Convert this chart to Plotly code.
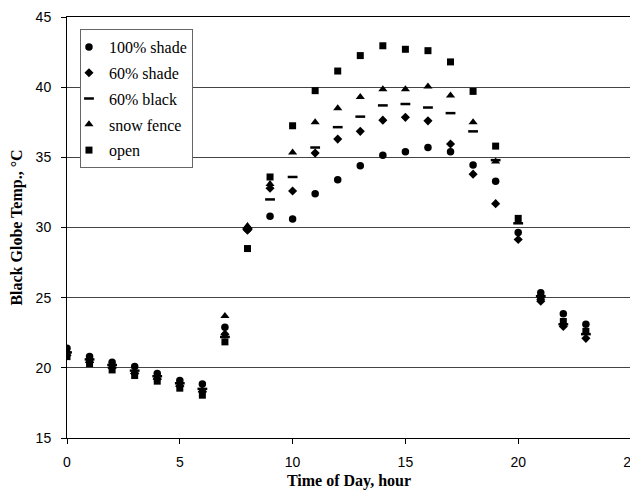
import plotly.graph_objects as go

hours = list(range(24))

shade100 = [21.4, 20.8, 20.4, 20.1, 19.6, 19.1, 18.85, 22.9, 29.9, 30.8, 30.6, 32.4, 33.4, 34.4, 35.15, 35.4, 35.7, 35.4, 34.45, 33.3, 29.65, 25.35, 23.85, 23.1]
shade60 = [20.9, 20.4, 20.0, 19.6, 19.2, 18.7, 18.3, 22.4, 29.8, 32.8, 32.6, 35.3, 36.3, 36.85, 37.65, 37.85, 37.6, 35.95, 33.8, 31.7, 29.15, 24.75, 22.95, 22.1]
black60 = [21.1, 20.6, 20.2, 19.8, 19.4, 18.9, 18.5, 22.2, 29.9, 32.0, 33.6, 35.7, 37.15, 37.9, 38.7, 38.8, 38.55, 38.15, 36.85, 34.8, 30.3, 25.1, 23.1, 22.4]
snowfence = [21.2, 20.5, 20.1, 19.7, 19.3, 18.8, 18.4, 23.7, 30.1, 33.1, 35.35, 37.5, 38.5, 39.3, 39.85, 39.85, 40.05, 39.4, 37.5, 34.7, 30.4, 25.0, 23.2, 22.5]
open_ = [20.8, 20.3, 19.85, 19.45, 19.05, 18.55, 18.05, 21.85, 28.5, 33.6, 37.25, 39.75, 41.15, 42.25, 42.95, 42.7, 42.6, 41.8, 39.7, 35.8, 30.65, 25.0, 23.3, 22.6]

series = [
    ("100% shade", shade100, dict(symbol="circle", size=7.5, color="black")),
    ("60% shade", shade60, dict(symbol="diamond", size=7, color="black")),
    ("60% black", black60, dict(symbol="line-ew", size=7, color="black", line=dict(width=2.5, color="black"))),
    ("snow fence", snowfence, dict(symbol="triangle-up", size=8, color="black")),
    ("open", open_, dict(symbol="square", size=7, color="black")),
]

fig = go.Figure()
for i, (name, vals, mk) in enumerate(series):
    fig.add_trace(go.Scatter(x=hours, y=vals, mode="markers", name=name,
                             marker=mk, legendgroup=f"g{i}"))

axis_common = dict(showline=True, linecolor="black", linewidth=1, mirror=True,
                   ticks="outside", ticklen=5, tickcolor="black",
                   tickfont=dict(family="Liberation Sans", size=14, color="black"),
                   zeroline=False, ticklabeloverflow="allow")

fig.update_xaxes(range=[0, 25], tick0=0, dtick=5, showgrid=False,
                 ticklabelstandoff=6,
                 title=dict(text="<b>Time of Day, hour</b>",
                            font=dict(family="Liberation Serif", size=16, color="black"),
                            standoff=8),
                 **axis_common)
fig.update_yaxes(range=[15, 45], tick0=15, dtick=5, showgrid=True,
                 gridcolor="#444444", gridwidth=1, ticklabelstandoff=7,
                 title=dict(text="<b>Black Globe Temp., °C</b>",
                            font=dict(family="Liberation Serif", size=16, color="black"),
                            standoff=15),
                 **axis_common)

fig.update_layout(
    width=630, height=482,
    margin=dict(l=59, r=7, t=9, b=52, autoexpand=False),
    plot_bgcolor="white", paper_bgcolor="white",
    showlegend=True,
    legend=dict(x=0.023, y=0.9715, xanchor="left", yanchor="top",
                bgcolor="white", bordercolor="#666666", borderwidth=1,
                font=dict(family="Liberation Serif", size=16, color="black"),
                tracegroupgap=2, itemwidth=30, traceorder="grouped",
                indentation=-12),
)

fig.write_html("out.html")
